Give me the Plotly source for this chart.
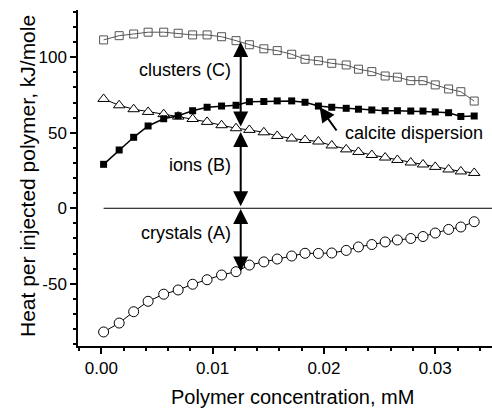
import plotly.graph_objects as go

# Polymer concentration (mM)
conc = [0.0002, 0.0016, 0.0029, 0.0042, 0.0056, 0.0069, 0.0082, 0.0095, 0.0108, 0.0121,
        0.0133, 0.0146, 0.0158, 0.0171, 0.0183, 0.0195, 0.0207, 0.0220, 0.0231, 0.0243,
        0.0255, 0.0266, 0.0278, 0.0289, 0.0300, 0.0312, 0.0323, 0.0335]

clusters = [111.5, 114.3, 115.4, 116.6, 116.6, 115.9, 114.8, 114.8, 113.6, 111.0,
            108.3, 105.6, 104.4, 102.0, 98.7, 97.7, 96.0, 94.9, 92.1, 90.5,
            87.6, 86.8, 84.5, 84.5, 81.7, 79.0, 77.2, 71.0]

calcite = [29.1, 38.6, 47.0, 54.5, 59.3, 61.3, 64.6, 66.9, 67.7, 68.2,
           70.6, 70.7, 71.1, 71.1, 70.2, 67.7, 66.9, 66.2, 65.6, 65.1,
           64.6, 64.6, 64.4, 64.4, 63.8, 63.3, 60.8, 61.1]

ions = [72.4, 68.2, 65.6, 63.8, 62.3, 60.7, 59.1, 57.2, 55.0, 53.0,
        51.9, 50.3, 47.9, 46.2, 45.2, 44.2, 41.6, 39.0, 37.3, 35.3,
        33.6, 32.0, 30.3, 29.0, 27.4, 25.7, 24.4, 23.4]

crystals = [-81.9, -76.0, -68.5, -61.6, -56.9, -54.1, -50.3, -47.3, -44.2, -42.0,
            -37.6, -35.5, -33.6, -31.6, -29.8, -29.9, -29.6, -27.9, -25.6, -24.0,
            -22.3, -21.0, -20.0, -18.7, -16.4, -14.0, -12.4, -8.9]

ytick_vals = [-50, 0, 50, 100]
ytick_text = ["-50", "0", "50", "100"]

# annotation positions (data units)
arrow_x = 0.01252
arrow_segments = [(110.1, 53.2), (50.5, 0.3), (-0.5, -42.8)]
labels = [("clusters (C)", 0.0118, 91.6), ("ions (B)", 0.0118, 28.7), ("crystals (A)", 0.0118, -16.6)]

FONT = "Arial, Liberation Sans, sans-serif"

fig = go.Figure()
fig.add_trace(go.Scatter(x=conc, y=clusters, mode="lines+markers",
                         line=dict(color="#555555", width=1),
                         marker=dict(symbol="square-open", size=8, color="#555555", line=dict(width=1))))
fig.add_trace(go.Scatter(x=conc, y=ions, mode="lines+markers",
                         line=dict(color="black", width=1),
                         marker=dict(symbol="triangle-up", size=10, color="white",
                                     line=dict(color="black", width=1))))
fig.add_trace(go.Scatter(x=conc, y=calcite, mode="lines+markers",
                         line=dict(color="black", width=1.5),
                         marker=dict(symbol="square", size=7, color="black")))
fig.add_trace(go.Scatter(x=conc, y=crystals, mode="lines+markers",
                         line=dict(color="black", width=1),
                         marker=dict(symbol="circle", size=10, color="white",
                                     line=dict(color="black", width=1))))

fig.add_shape(type="line", x0=conc[0], x1=0.0352, y0=0, y1=0, xref="x", yref="y",
              line=dict(color="black", width=1))

for top, bot in arrow_segments:
    fig.add_annotation(x=arrow_x, y=top, ax=arrow_x, ay=bot, xref="x", yref="y",
                       axref="x", ayref="y", text="", showarrow=True,
                       arrowhead=2, startarrowhead=2, arrowside="end+start",
                       arrowsize=1.5, startarrowsize=1.5, arrowwidth=2, arrowcolor="black")

fig.add_annotation(x=0.01961, y=67.1, ax=0.02123, ay=50.5, xref="x", yref="y",
                   axref="x", ayref="y", text="", showarrow=True,
                   arrowhead=2, arrowsize=1.5, arrowwidth=2, arrowcolor="black")

for txt, lx, ly in labels:
    fig.add_annotation(x=lx, y=ly, xref="x", yref="y", text=txt, showarrow=False,
                       xanchor="right", yanchor="middle",
                       font=dict(family=FONT, size=18, color="black"))
fig.add_annotation(x=0.02168, y=49.9, xref="x", yref="y", text="calcite dispersion",
                   showarrow=False, xanchor="left", yanchor="middle",
                   font=dict(family=FONT, size=18, color="black"))

# axis titles
fig.add_annotation(x=0, y=0.5, xref="paper", yref="paper", xshift=-51, yshift=2,
                   text="Heat per injected polymer, kJ/mole", textangle=-90,
                   showarrow=False, xanchor="center", yanchor="middle",
                   font=dict(family=FONT, size=21, color="black"))
fig.add_annotation(x=0.5, y=0, xref="paper", yref="paper", xshift=7, yshift=-51,
                   text="Polymer concentration, mM", showarrow=False,
                   xanchor="center", yanchor="middle",
                   font=dict(family=FONT, size=20, color="black"))

fig.update_layout(
    width=492, height=408,
    margin=dict(l=78, r=0, t=10, b=62),
    plot_bgcolor="white", paper_bgcolor="white",
    showlegend=False,
    font=dict(family=FONT, size=17, color="black"),
)
fig.update_xaxes(range=[-0.0021, 0.0351], showgrid=False, zeroline=False,
                 showline=True, linecolor="black", linewidth=1.5, mirror=False,
                 ticks="outside", ticklen=6, tickwidth=1.5, tickcolor="black",
                 tick0=0, dtick=0.01, tickformat=".2f",
                 minor=dict(ticks="outside", ticklen=3.5, tickwidth=1.5, tickcolor="black",
                            tick0=0, dtick=0.002, showgrid=False))
fig.update_yaxes(range=[-91.2, 131.3], showgrid=False, zeroline=False,
                 showline=True, linecolor="black", linewidth=1.5, mirror=False,
                 ticks="outside", ticklen=6, tickwidth=1.5, tickcolor="black",
                 tickmode="array", tickvals=ytick_vals, ticktext=ytick_text,
                 minor=dict(ticks="outside", ticklen=3.5, tickwidth=1.5, tickcolor="black",
                            tick0=0, dtick=10, showgrid=False))

fig.write_html("out.html")
